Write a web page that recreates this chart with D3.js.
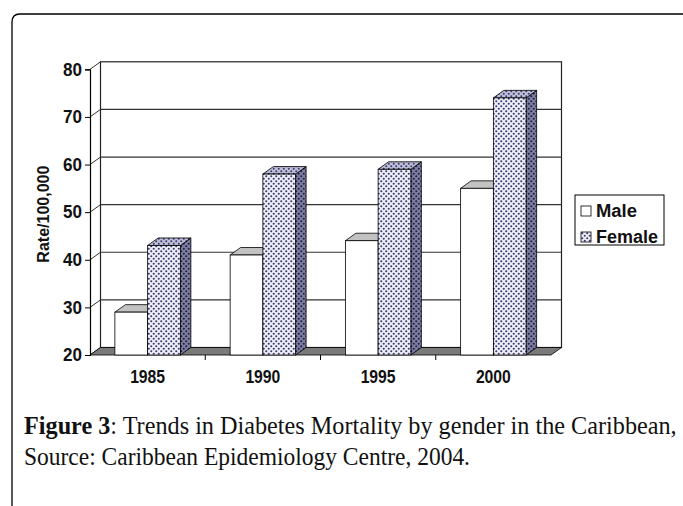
<!DOCTYPE html>
<html>
<head>
<meta charset="utf-8">
<script src="https://cdn.jsdelivr.net/npm/d3@7"></script>
<style>
    body { margin: 0; background: #fff; }
    svg { display: block; }
    .tick text { font-family: "Liberation Sans", Arial, sans-serif; font-weight: bold; }
</style>
</head>
<body>
<div id="chart"></div>
<script>
// Chart data
const categories = ['1985', '1990', '1995', '2000'];
const seriesNames = ['Male', 'Female'];
const maleValues = [29, 41, 44, 55];
const femaleValues = [43, 58, 59, 74];
const yTicks = [20, 30, 40, 50, 60, 70, 80];

const width = 683;
const height = 506;
const depthX = 10.5;
const depthY = -7.5;

const svg = d3.select('#chart')
    .append('svg')
    .attr('width', width)
    .attr('height', height);

// squeeze a text to a given width (the reference uses a tall, narrow Arial)
function squeeze(sel, w) {
    sel.attr('textLength', w).attr('lengthAdjust', 'spacingAndGlyphs');
}

// Patterns for the dotted female bars
const defs = svg.append('defs');
function addDots(id, bg, dot, r) {
    const p = defs.append('pattern')
        .attr('id', id)
        .attr('width', 5)
        .attr('height', 5)
        .attr('patternUnits', 'userSpaceOnUse');
    p.append('rect').attr('width', 5).attr('height', 5).attr('fill', bg);
    p.append('circle').attr('cx', 1.25).attr('cy', 1.25).attr('r', r).attr('fill', dot);
    p.append('circle').attr('cx', 3.75).attr('cy', 3.75).attr('r', r).attr('fill', dot);
}
addDots('dots-front', '#eeeef8', '#3a3a6e', 1.05);
addDots('dots-top', '#bebed8', '#3a3a6e', 1.0);
addDots('dots-side', '#7e7ea2', '#222248', 1.1);

// Outer frame
svg.append('path')
    .attr('d', 'M12,510 V22 Q12,14 20,14 H690')
    .attr('fill', 'none')
    .attr('stroke', '#000')
    .attr('stroke-width', 1.3);

const x = d3.scaleBand()
    .domain(categories)
    .range([90, 551])
    .padding(0);

const xSeries = d3.scaleBand()
    .domain(seriesNames)
    .range([0, x.bandwidth()])
    .paddingInner(0)
    .paddingOuter(0.76);

const y = d3.scaleLinear()
    .domain([20, 80])
    .range([355, 69.3]);

const [x0, x1] = x.range();
const yBottom = y(20);
const yTop = y(80);

// Back wall
svg.append('rect')
    .attr('x', x0 + depthX)
    .attr('y', yTop + depthY)
    .attr('width', x1 - x0)
    .attr('height', yBottom - yTop)
    .attr('fill', '#fff')
    .attr('stroke', '#222')
    .attr('stroke-width', 1.2);

// Gridlines on back wall + left wall diagonals
svg.selectAll('.grid')
    .data(yTicks.slice(1, -1))
    .enter()
    .append('line')
    .attr('class', 'grid')
    .attr('x1', x0 + depthX)
    .attr('x2', x1 + depthX)
    .attr('y1', d => y(d) + depthY)
    .attr('y2', d => y(d) + depthY)
    .attr('stroke', '#333')
    .attr('stroke-width', 1.2);

svg.selectAll('.diag')
    .data(yTicks)
    .enter()
    .append('line')
    .attr('class', 'diag')
    .attr('x1', x0)
    .attr('x2', x0 + depthX)
    .attr('y1', d => y(d))
    .attr('y2', d => y(d) + depthY)
    .attr('stroke', '#333')
    .attr('stroke-width', 1);

// Floor
svg.append('polygon')
    .attr('points', [
        [x0, yBottom], [x1, yBottom],
        [x1 + depthX, yBottom + depthY], [x0 + depthX, yBottom + depthY]
    ].map(p => p.join(',')).join(' '))
    .attr('fill', '#7a7a7a')
    .attr('stroke', '#000')
    .attr('stroke-width', 0.8);

// Y axis
const yAxis = svg.append('g')
    .attr('transform', `translate(${x0},0)`)
    .call(d3.axisLeft(y).tickValues(yTicks).tickSize(5).tickPadding(3).tickFormat(d3.format('d')));
yAxis.select('.domain').attr('stroke', '#000').attr('stroke-width', 1.2);
yAxis.selectAll('.tick line').attr('stroke', '#000');
yAxis.selectAll('.tick text').attr('font-size', 18).attr('fill', '#111');
squeeze(yAxis.selectAll('.tick text'), 19);

// X axis labels
const xAxis = svg.append('g')
    .attr('transform', `translate(0,${yBottom})`)
    .call(d3.axisBottom(x).tickSize(0).tickPadding(15));
xAxis.select('.domain').remove();
xAxis.selectAll('.tick text').attr('font-size', 18).attr('fill', '#111');
squeeze(xAxis.selectAll('.tick text'), 35);

// Category boundary ticks
svg.selectAll('.xtick')
    .data(categories.slice(1))
    .enter()
    .append('line')
    .attr('class', 'xtick')
    .attr('x1', d => x(d))
    .attr('x2', d => x(d))
    .attr('y1', yBottom)
    .attr('y2', yBottom + 5)
    .attr('stroke', '#000');

// Y axis title
const yTitle = svg.append('text')
    .attr('transform', `translate(49,${(yTop + yBottom) / 2 + 2}) rotate(-90)`)
    .attr('text-anchor', 'middle')
    .attr('font-family', '"Liberation Sans", Arial, sans-serif')
    .attr('font-weight', 'bold')
    .attr('font-size', 16)
    .attr('fill', '#111')
    .text('Rate/100,000');
squeeze(yTitle, 97);

// 3D bars
const barData = [];
categories.forEach((c, i) => {
    barData.push({ cat: c, series: 'Male', value: maleValues[i] });
    barData.push({ cat: c, series: 'Female', value: femaleValues[i] });
});

const styles = {
    Male: { front: '#fff', top: '#c2c2c2', side: '#e0e0e0' },
    Female: { front: 'url(#dots-front)', top: 'url(#dots-top)', side: 'url(#dots-side)' }
};

const bars = svg.selectAll('.bar')
    .data(barData)
    .enter()
    .append('g')
    .attr('class', 'bar');

bars.each(function(d) {
    const g = d3.select(this);
    const bx = x(d.cat) + xSeries(d.series);
    const bw = xSeries.bandwidth();
    const by = y(d.value);
    const st = styles[d.series];

    g.append('polygon')
        .attr('points', [
            [bx + bw, by], [bx + bw + depthX, by + depthY],
            [bx + bw + depthX, yBottom + depthY], [bx + bw, yBottom]
        ].map(p => p.join(',')).join(' '))
        .attr('fill', st.side)
        .attr('stroke', '#000')
        .attr('stroke-width', 0.8);

    g.append('polygon')
        .attr('points', [
            [bx, by], [bx + bw, by],
            [bx + bw + depthX, by + depthY], [bx + depthX, by + depthY]
        ].map(p => p.join(',')).join(' '))
        .attr('fill', st.top)
        .attr('stroke', '#000')
        .attr('stroke-width', 0.8);

    g.append('rect')
        .attr('x', bx)
        .attr('y', by)
        .attr('width', bw)
        .attr('height', yBottom - by)
        .attr('fill', st.front)
        .attr('stroke', '#000')
        .attr('stroke-width', 0.8);
});

// Legend
const legend = svg.append('g').attr('transform', 'translate(575,195)');
legend.append('rect')
    .attr('width', 89)
    .attr('height', 50)
    .attr('fill', '#fff')
    .attr('stroke', '#000')
    .attr('stroke-width', 1);

const legendItems = legend.selectAll('.item')
    .data(seriesNames)
    .enter()
    .append('g')
    .attr('class', 'item')
    .attr('transform', (d, i) => `translate(6,${11 + i * 26})`);

legendItems.append('rect')
    .attr('width', 10)
    .attr('height', 10)
    .attr('fill', d => styles[d].front)
    .attr('stroke', '#000')
    .attr('stroke-width', 0.8);

const legendText = legendItems.append('text')
    .attr('x', 15)
    .attr('y', 11)
    .attr('font-family', '"Liberation Sans", Arial, sans-serif')
    .attr('font-weight', 'bold')
    .attr('font-size', 18)
    .attr('fill', '#111')
    .text(d => d);
legendText.attr('textLength', d => d === 'Male' ? 41 : 62).attr('lengthAdjust', 'spacingAndGlyphs');

// Caption
const caption = svg.append('g')
    .attr('font-family', '"Liberation Serif", "Times New Roman", serif')
    .attr('fill', '#111');

const line1 = caption.append('text')
    .attr('x', 24)
    .attr('y', 434)
    .attr('font-size', 20);
line1.append('tspan').attr('font-weight', 'bold').text('Figure 3');
line1.append('tspan').text(': Trends in Diabetes Mortality by gender in the Caribbean,');

// fit the first caption line to the reference width
const fs = 20 * 653 / line1.node().getComputedTextLength();
line1.attr('font-size', fs);

const line2 = caption.append('text')
    .attr('x', 24)
    .attr('y', 465)
    .attr('font-size', fs)
    .text('Source: Caribbean Epidemiology Centre, 2004.');
squeeze(line2, 446);
</script>
</body>
</html>
